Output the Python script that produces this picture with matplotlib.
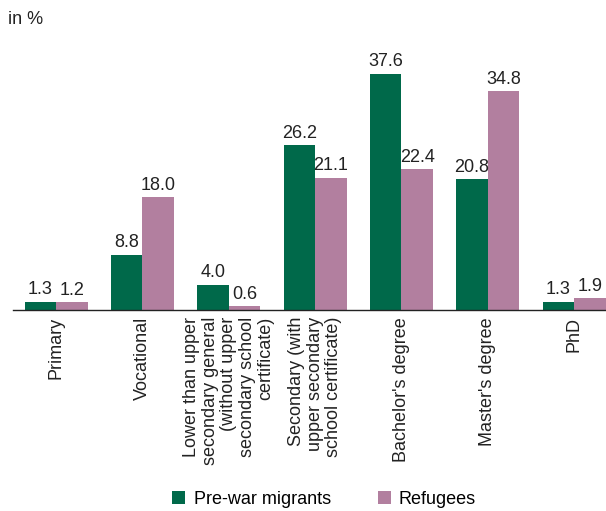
import matplotlib.pyplot as plt
import numpy as np

plt.rcParams['font.family'] = ['Liberation Sans', 'DejaVu Sans']

categories = [
    "Primary",
    "Vocational",
    "Lower than upper\nsecondary general\n(without upper\nsecondary school\ncertificate)",
    "Secondary (with\nupper secondary\nschool certificate)",
    "Bachelor's degree",
    "Master's degree",
    "PhD",
]
prewar = [1.3, 8.8, 4.0, 26.2, 37.6, 20.8, 1.3]
refugees = [1.2, 18.0, 0.6, 21.1, 22.4, 34.8, 1.9]

green = '#00694a'
pink = '#b27f9f'
fs = 13

fig = plt.figure(figsize=(6.06, 5.11), dpi=100)
ax = fig.add_axes([13 / 606, 1 - 310 / 511, 1 - 13 / 606, 270 / 511])

x = np.arange(len(categories))
w = 0.365
ax.bar(x - w / 2, prewar, w, color=green, label='Pre-war migrants')
ax.bar(x + w / 2, refugees, w, color=pink, label='Refugees')

for xi, v in zip(x, prewar):
    ax.text(xi - w / 2, v + 0.55, f"{v:.1f}", ha='center', va='bottom', fontsize=fs, color='#222222')
for xi, v in zip(x, refugees):
    ax.text(xi + w / 2, v + 0.55, f"{v:.1f}", ha='center', va='bottom', fontsize=fs, color='#222222')

ax.set_xlim(-0.5, 6.37)
ax.set_ylim(0, 43)
ax.set_yticks([])
ax.set_xticks(x)
ax.set_xticklabels(categories, rotation=90, ha='center', va='top', multialignment='right',
                   fontsize=fs, linespacing=1.12, color='#222222')
ax.tick_params(axis='x', length=0, pad=5)
for s in ['top', 'right', 'left']:
    ax.spines[s].set_visible(False)
ax.spines['bottom'].set_color('#222222')
ax.spines['bottom'].set_linewidth(1.0)

fig.text(8 / 606, 1 - 20 / 511, "in %", fontsize=fs, va='center', ha='left', color='#222222')

fig.legend(loc='lower center', bbox_to_anchor=(0.535, -0.025), ncol=2, frameon=False,
           fontsize=fs, handlelength=0.72, handleheight=0.72, columnspacing=2.6, handletextpad=0.45)

fig.savefig('out.png', dpi=100)
